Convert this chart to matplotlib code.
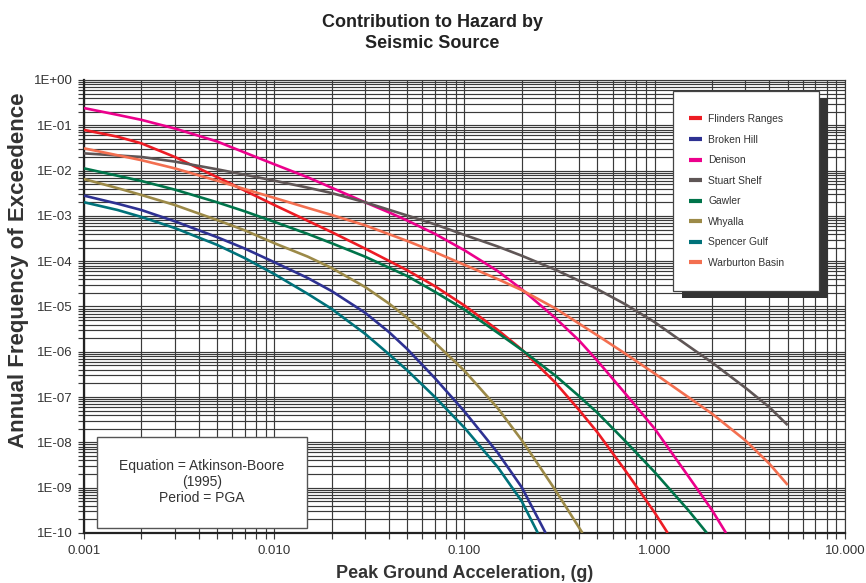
import matplotlib as mpl
mpl.use("agg")
import matplotlib.pyplot as plt
from matplotlib.patches import Rectangle
from matplotlib.ticker import LogLocator, FuncFormatter, NullFormatter

plt.rcParams["font.family"] = ["Liberation Sans", "DejaVu Sans"]

# hazard curves: peak ground acceleration (g) vs annual frequency of exceedence
pga_flinders = [0.001, 0.0015, 0.002, 0.003, 0.005, 0.01, 0.02, 0.03, 0.05, 0.07, 0.1,
                0.15, 0.2, 0.3, 0.4, 0.5, 0.7, 1.0, 1.17]
freq_flinders = [7.9e-2, 5.6e-2, 4.0e-2, 2.0e-2, 7.2e-3, 1.74e-3, 4.4e-4, 1.9e-4, 6.3e-5,
                 2.8e-5, 1.05e-5, 3.0e-6, 1.12e-6, 2.1e-7, 5.2e-8, 1.66e-8, 2.4e-9,
                 2.8e-10, 1e-10]

pga_broken = [0.001, 0.0015, 0.002, 0.003, 0.005, 0.007, 0.01, 0.015, 0.02, 0.03, 0.04,
              0.05, 0.07, 0.1, 0.15, 0.2, 0.267]
freq_broken = [2.8e-3, 1.86e-3, 1.35e-3, 7.6e-4, 3.4e-4, 1.9e-4, 9.5e-5, 4.25e-5, 2.2e-5,
               7.3e-6, 2.75e-6, 1.15e-6, 2.6e-7, 4.8e-8, 5.8e-9, 1.02e-9, 1e-10]

pga_denison = [0.001, 0.0015, 0.002, 0.003, 0.005, 0.007, 0.01, 0.015, 0.02, 0.03, 0.04,
               0.05, 0.07, 0.1, 0.15, 0.2, 0.3, 0.4, 0.5, 0.7, 1.0, 1.5, 2.0, 2.37]
freq_denison = [0.24, 0.17, 0.132, 0.085, 0.044, 2.5e-2, 1.38e-2, 7.1e-3, 4.2e-3, 2.0e-3,
                1.2e-3, 7.9e-4, 4.0e-4, 1.74e-4, 6.0e-5, 2.4e-5, 5.6e-6, 1.78e-6, 6.3e-7,
                1.2e-7, 2.0e-8, 1.8e-9, 3.2e-10, 1e-10]

pga_stuart = [0.001, 0.002, 0.003, 0.005, 0.007, 0.01, 0.015, 0.02, 0.03, 0.05, 0.07, 0.1,
              0.15, 0.2, 0.3, 0.5, 0.7, 1.0, 1.5, 2.0, 3.0, 4.0, 5.0]
freq_stuart = [2.4e-2, 2.0e-2, 1.58e-2, 1.07e-2, 8.1e-3, 6.0e-3, 4.2e-3, 3.2e-3, 2.0e-3,
               1.02e-3, 6.5e-4, 3.8e-4, 2.1e-4, 1.32e-4, 6.5e-5, 2.4e-5, 1.12e-5, 4.5e-6,
               1.35e-6, 5.8e-7, 1.6e-7, 6.0e-8, 2.4e-8]

pga_gawler = [0.001, 0.002, 0.003, 0.005, 0.007, 0.01, 0.015, 0.02, 0.03, 0.05, 0.07, 0.1,
              0.15, 0.2, 0.3, 0.4, 0.5, 0.7, 1.0, 1.5, 1.88]
freq_gawler = [1.12e-2, 5.9e-3, 3.8e-3, 2.0e-3, 1.26e-3, 7.4e-4, 4.0e-4, 2.5e-4, 1.26e-4,
               4.7e-5, 2.1e-5, 8.5e-6, 2.6e-6, 1.1e-6, 3.0e-7, 1.05e-7, 4.5e-8, 1.07e-8,
               2.2e-9, 3.2e-10, 1e-10]

pga_whyalla = [0.001, 0.0015, 0.002, 0.003, 0.005, 0.007, 0.01, 0.015, 0.02, 0.03, 0.04,
               0.05, 0.07, 0.1, 0.15, 0.2, 0.25, 0.3, 0.35, 0.417]
freq_whyalla = [6.5e-3, 4.1e-3, 2.9e-3, 1.74e-3, 8.1e-4, 4.8e-4, 2.5e-4, 1.26e-4, 7.1e-5,
                2.7e-5, 1.17e-5, 5.6e-6, 1.58e-6, 3.8e-7, 5.6e-8, 1.12e-8, 2.8e-9,
                8.9e-10, 3.2e-10, 1e-10]

pga_spencer = [0.001, 0.0015, 0.002, 0.003, 0.005, 0.007, 0.01, 0.015, 0.02, 0.03, 0.04,
               0.05, 0.07, 0.1, 0.15, 0.2, 0.243]
freq_spencer = [2.0e-3, 1.35e-3, 9.5e-4, 5.4e-4, 2.3e-4, 1.17e-4, 5.2e-5, 1.9e-5, 8.9e-6,
                2.5e-6, 8.9e-7, 3.9e-7, 1.0e-7, 2.1e-8, 2.8e-9, 5.0e-10, 1e-10]

pga_warburton = [0.001, 0.002, 0.003, 0.005, 0.007, 0.01, 0.015, 0.02, 0.03, 0.05, 0.07,
                 0.1, 0.15, 0.2, 0.3, 0.5, 0.7, 1.0, 1.5, 2.0, 3.0, 4.0, 5.0]
freq_warburton = [3.1e-2, 1.7e-2, 1.12e-2, 6.0e-3, 3.9e-3, 2.5e-3, 1.5e-3, 1.05e-3, 6.2e-4,
                  2.8e-4, 1.58e-4, 8.3e-5, 4.0e-5, 2.3e-5, 9.1e-6, 2.3e-6, 9.1e-7, 3.3e-7,
                  1.0e-7, 4.3e-8, 1.1e-8, 3.4e-9, 1.15e-9]

sources = [
    ("Flinders Ranges", pga_flinders, freq_flinders, "#ed1c24"),
    ("Broken Hill", pga_broken, freq_broken, "#2e3192"),
    ("Denison", pga_denison, freq_denison, "#ec008c"),
    ("Stuart Shelf", pga_stuart, freq_stuart, "#5f5656"),
    ("Gawler", pga_gawler, freq_gawler, "#00744a"),
    ("Whyalla", pga_whyalla, freq_whyalla, "#9c8a48"),
    ("Spencer Gulf", pga_spencer, freq_spencer, "#00727a"),
    ("Warburton Basin", pga_warburton, freq_warburton, "#f36f50"),
]

fig = plt.figure(figsize=(8.66, 5.83), dpi=100)
fig.subplots_adjust(left=0.097, right=0.9757, top=0.8628, bottom=0.0858)
ax = fig.add_subplot(111)

grid_col = "#3a3a3a"
ax.set_xscale("log")
ax.set_yscale("log")
ax.set_xlim(0.001, 10)
ax.set_ylim(1e-10, 1)

ax.xaxis.set_major_locator(LogLocator(base=10, numticks=10))
ax.xaxis.set_minor_locator(LogLocator(base=10, subs=range(2, 10), numticks=50))
ax.yaxis.set_major_locator(LogLocator(base=10, numticks=15))
ax.yaxis.set_minor_locator(LogLocator(base=10, subs=range(2, 10), numticks=100))
ax.xaxis.set_major_formatter(FuncFormatter(lambda v, p: f"{v:.3f}"))
ax.yaxis.set_major_formatter(FuncFormatter(lambda v, p: f"{v:.0E}"))
ax.xaxis.set_minor_formatter(NullFormatter())
ax.yaxis.set_minor_formatter(NullFormatter())

ax.grid(True, which="both", color=grid_col, lw=0.85)
ax.set_axisbelow(True)
ax.tick_params(which="both", direction="out", length=4, width=0.85, color=grid_col,
               labelsize=9.5, labelcolor="#333333")
ax.tick_params(axis="y", pad=4)
ax.tick_params(axis="x", pad=5)
for side in ("left", "bottom"):
    ax.spines[side].set_linewidth(1.6)
    ax.spines[side].set_color("#222222")
for side in ("top", "right"):
    ax.spines[side].set_linewidth(0.85)
    ax.spines[side].set_color(grid_col)

handles = []
for name, x, y, col in sources:
    (ln,) = ax.plot(x, y, color=col, lw=1.9, label=name, solid_joinstyle="round",
                    solid_capstyle="butt", zorder=3)
    handles.append(ln)

# legend frame with a drop shadow
ax.add_patch(Rectangle((0.786, 0.519), 0.192, 0.441, transform=ax.transAxes,
                       facecolor="#333333", edgecolor="none", zorder=5, clip_on=False))
ax.add_patch(Rectangle((0.774, 0.534), 0.192, 0.4417, transform=ax.transAxes,
                       facecolor="white", edgecolor="#444444", lw=0.9, zorder=6, clip_on=False))
leg = ax.legend(handles=handles, loc="upper left", bbox_to_anchor=(0.7955, 0.925),
                frameon=False, fontsize=7.4, labelspacing=1.03, handlelength=1.25,
                handletextpad=0.6, borderpad=0, borderaxespad=0, labelcolor="#333333")
leg.set_zorder(7)
for lh in leg.get_lines():
    lh.set_linewidth(3)

# note box
ax.add_patch(Rectangle((0.0171, 0.011), 0.276, 0.2, transform=ax.transAxes,
                       facecolor="white", edgecolor="#555555", lw=1.0, zorder=6))
ax.text(0.155, 0.112, "Equation = Atkinson-Boore\n(1995)\nPeriod = PGA", transform=ax.transAxes,
        ha="center", va="center", fontsize=10, color="#333333", linespacing=1.2, zorder=7)

fig.text(0.499, 0.9434, "Contribution to Hazard by\nSeismic Source", ha="center", va="center",
         fontsize=13, fontweight="bold", color="#222222", linespacing=1.35)
fig.text(0.021, 0.537, "Annual Frequency of Exceedence", rotation=90, ha="center",
         va="center", fontsize=16, fontweight="bold", color="#333333")
fig.text(0.537, 0.017, "Peak Ground Acceleration, (g)", ha="center", va="center",
         fontsize=13, fontweight="bold", color="#333333")

fig.savefig("out.png", dpi=100)
